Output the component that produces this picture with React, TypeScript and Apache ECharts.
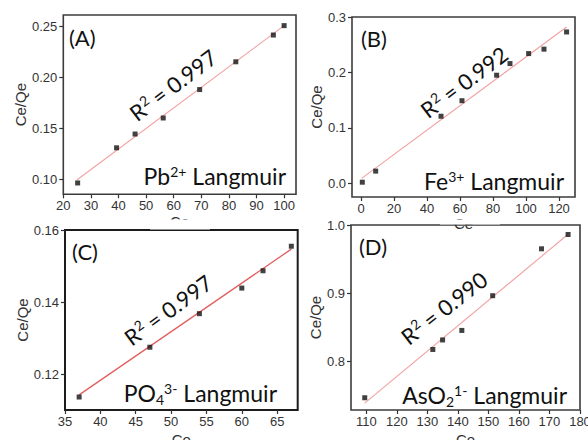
import React, { useEffect, useRef } from "react";
import * as echarts from "echarts";

// Pb2+ isotherm
const pbCe = [25.2, 39.3, 46.0, 56.2, 69.4, 82.5, 96.1, 100.0];
const pbRatio = [0.0964, 0.1308, 0.1443, 0.16, 0.1878, 0.215, 0.2412, 0.2504];
const pbFitCe = [24.9, 100.0];
const pbFitRatio = [0.0993, 0.2504];
const pbXTicks = [20, 30, 40, 50, 60, 70, 80, 90, 100];
const pbYTicks = [0.1, 0.15, 0.2, 0.25];

// Fe3+ isotherm
const feCe = [0.8, 8.9, 48.5, 61.2, 82.2, 90.3, 101.6, 110.9, 124.6];
const feRatio = [0.002, 0.022, 0.121, 0.149, 0.195, 0.216, 0.234, 0.242, 0.273];
const feFitCe = [0.4, 124.6];
const feFitRatio = [0.009, 0.282];
const feXTicks = [0, 20, 40, 60, 80, 100, 120];
const feYTicks = [0.0, 0.1, 0.2, 0.3];

// PO4 3- isotherm
const poCe = [37, 47, 54, 60, 63, 67];
const poRatio = [0.1137, 0.1275, 0.1368, 0.1439, 0.1487, 0.1555];
const poFitCe = [37, 67];
const poFitRatio = [0.1143, 0.1547];
const poXTicks = [35, 40, 45, 50, 55, 60, 65];
const poYTicks = [0.12, 0.14, 0.16];

// AsO2 1- isotherm
const asCe = [109.5, 131.8, 135.0, 141.3, 151.4, 167.4, 176.1];
const asRatio = [0.746, 0.817, 0.831, 0.845, 0.896, 0.965, 0.986];
const asFitCe = [109.5, 176.0];
const asFitRatio = [0.738, 0.986];
const asXTicks = [110, 120, 130, 140, 150, 160, 170, 180];
const asYTicks = [0.8, 0.9, 1.0];

const r2Values = ["0.997", "0.992", "0.997", "0.990"];
const panelTags = ["(A)", "(B)", "(C)", "(D)"];

// species labels: [text, kind] pieces, kind n = normal, sup, sub
type Piece = [string, "n" | "sup" | "sub"];
const speciesLabels: Piece[][] = [
  [["Pb", "n"], ["2+", "sup"], [" Langmuir", "n"]],
  [["Fe", "n"], ["3+", "sup"], [" Langmuir", "n"]],
  [["PO", "n"], ["4", "sub"], ["3-", "sup"], [" Langmuir", "n"]],
  [["AsO", "n"], ["2", "sub"], ["1-", "sup"], [" Langmuir", "n"]],
];

const zip = (xs: number[], ys: number[]) => xs.map((x, i) => [x, ys[i]]);

const AXIS_COLOR = "#333";
const TICK_FONT = "'Liberation Sans', Arial, sans-serif";
const NOTE_FAMILY = "Lato";
const NOTE_SIZE = 23;
const SCRIPT_SIZE = 14;

type Panel = {
  grid: { left: number; top: number; width: number; height: number };
  x: { min: number; max: number; ticks: number[]; nameGap: number };
  y: { min: number; max: number; ticks: number[]; digits: number; nameGap: number };
  points: number[][];
  fit: number[][];
  fitColor: string;
  fitWidth: number;
  frame: { color: string; width: number };
};

const panels: Panel[] = [
  {
    grid: { left: 63.3, top: 15, width: 232.7, height: 179.3 },
    x: { min: 20, max: 104.3, ticks: pbXTicks, nameGap: 20 },
    y: { min: 0.0853, max: 0.2608, ticks: pbYTicks, digits: 2, nameGap: 32 },
    points: zip(pbCe, pbRatio),
    fit: zip(pbFitCe, pbFitRatio),
    fitColor: "#f2a0a0",
    fitWidth: 1.1,
    frame: { color: "#3c3c3c", width: 1.6 },
  },
  {
    grid: { left: 352, top: 17, width: 223, height: 180 },
    x: { min: -5.45, max: 129.7, ticks: feXTicks, nameGap: 19 },
    y: { min: -0.0247, max: 0.3, ticks: feYTicks, digits: 1, nameGap: 27 },
    points: zip(feCe, feRatio),
    fit: zip(feFitCe, feFitRatio),
    fitColor: "#f2a0a0",
    fitWidth: 1.1,
    frame: { color: "#3c3c3c", width: 1.6 },
  },
  {
    grid: { left: 65, top: 230, width: 232.7, height: 180 },
    x: { min: 35, max: 67.9, ticks: poXTicks, nameGap: 22 },
    y: { min: 0.1101, max: 0.16, ticks: poYTicks, digits: 2, nameGap: 34 },
    points: zip(poCe, poRatio),
    fit: zip(poFitCe, poFitRatio),
    fitColor: "#e25f5f",
    fitWidth: 1.3,
    frame: { color: "#1c1c1c", width: 2 },
  },
  {
    grid: { left: 351, top: 225, width: 229, height: 185 },
    x: { min: 105, max: 180, ticks: asXTicks, nameGap: 22 },
    y: { min: 0.728, max: 1.0, ticks: asYTicks, digits: 1, nameGap: 27 },
    points: zip(asCe, asRatio),
    fit: zip(asFitCe, asFitRatio),
    fitColor: "#f2a0a0",
    fitWidth: 1.1,
    frame: { color: "#3c3c3c", width: 1.6 },
  },
];

// Annotation anchors inside each frame
const tagPos = [
  [69, 26],
  [361, 27],
  [72, 240],
  [359, 235],
];
const r2Pos = [
  [173, 85, 37],
  [464, 82, 37],
  [168, 310, 36],
  [444, 308, 38],
];
// right edge and vertical centre of the species label
const speciesPos = [
  [286, 176],
  [564, 181],
  [277, 393],
  [567, 395],
];

export default function App() {
  const ref = useRef<HTMLDivElement>(null);

  useEffect(() => {
    if (!ref.current) return;
    const chart = echarts.init(ref.current, null, { renderer: "svg" });

    const measureCtx = document.createElement("canvas").getContext("2d")!;
    const textWidth = (s: string, size: number) => {
      measureCtx.font = `${size}px ${NOTE_FAMILY}`;
      return measureCtx.measureText(s).width;
    };

    const grid = panels.map((p) => ({
      ...p.grid,
      show: true,
      borderColor: p.frame.color,
      borderWidth: p.frame.width,
      backgroundColor: "transparent",
      containLabel: false,
      outerBoundsMode: "none",
    }));

    const xAxis = panels.map((p, i) => ({
      type: "value",
      gridIndex: i,
      position: "bottom",
      min: p.x.min,
      max: p.x.max,
      name: "Ce",
      nameLocation: "middle",
      nameGap: p.x.nameGap,
      nameTextStyle: { color: AXIS_COLOR, fontSize: 15, fontFamily: TICK_FONT },
      axisLine: { show: false, onZero: false },
      splitLine: { show: false },
      axisTick: {
        show: true,
        inside: false,
        length: 4,
        customValues: p.x.ticks,
        lineStyle: { color: AXIS_COLOR, width: 1.2 },
      },
      axisLabel: {
        customValues: p.x.ticks,
        margin: 5,
        color: AXIS_COLOR,
        fontSize: 13,
        fontFamily: TICK_FONT,
        formatter: (v: number) => String(Math.round(v)),
      },
    }));

    const yAxis = panels.map((p, i) => ({
      type: "value",
      gridIndex: i,
      position: "left",
      min: p.y.min,
      max: p.y.max,
      name: "Ce/Qe",
      nameLocation: "middle",
      nameGap: p.y.nameGap,
      nameTextStyle: { color: AXIS_COLOR, fontSize: 15, fontFamily: TICK_FONT },
      axisLine: { show: false, onZero: false },
      splitLine: { show: false },
      axisTick: {
        show: true,
        inside: false,
        length: 4,
        customValues: p.y.ticks,
        lineStyle: { color: AXIS_COLOR, width: 1.2 },
      },
      axisLabel: {
        customValues: p.y.ticks,
        margin: 6,
        color: AXIS_COLOR,
        fontSize: 13,
        fontFamily: TICK_FONT,
        formatter: (v: number) => v.toFixed(p.y.digits),
      },
    }));

    const series: any[] = [];
    panels.forEach((p, i) => {
      series.push({
        type: "line",
        xAxisIndex: i,
        yAxisIndex: i,
        data: p.fit,
        symbol: "none",
        lineStyle: { color: p.fitColor, width: p.fitWidth },
        z: 2,
      });
      series.push({
        type: "scatter",
        xAxisIndex: i,
        yAxisIndex: i,
        data: p.points,
        symbol: "rect",
        symbolSize: 5,
        itemStyle: { color: "#111" },
        z: 3,
      });
    });

    const noteColor = "#111";
    const graphic: any[] = [];
    panelTags.forEach((t, i) => {
      graphic.push({
        type: "text",
        x: tagPos[i][0],
        y: tagPos[i][1],
        style: {
          text: t,
          fill: noteColor,
          fontSize: 22,
          fontFamily: NOTE_FAMILY,
          align: "left",
          verticalAlign: "top",
        },
      });

      // R² = value, written along the fit line
      const rBase = textWidth("R", 22);
      const rSup = textWidth("2", SCRIPT_SIZE);
      const rRest = " = " + r2Values[i];
      const rTotal = rBase + rSup + textWidth(rRest, 22);
      const x0 = -rTotal / 2;
      graphic.push({
        type: "group",
        x: r2Pos[i][0],
        y: r2Pos[i][1],
        rotation: (r2Pos[i][2] * Math.PI) / 180,
        children: [
          {
            type: "text",
            x: x0,
            y: 0,
            style: { text: "R", fill: noteColor, fontSize: 22, fontFamily: NOTE_FAMILY, align: "left", verticalAlign: "middle" },
          },
          {
            type: "text",
            x: x0 + rBase + 0.5,
            y: -5,
            style: { text: "2", fill: noteColor, fontSize: SCRIPT_SIZE, fontFamily: NOTE_FAMILY, align: "left", verticalAlign: "middle" },
          },
          {
            type: "text",
            x: x0 + rBase + rSup,
            y: 0,
            style: { text: rRest, fill: noteColor, fontSize: 22, fontFamily: NOTE_FAMILY, align: "left", verticalAlign: "middle" },
          },
        ],
      });

      // species label, right aligned
      const pieces = speciesLabels[i];
      const widths = pieces.map(([s, k]) => textWidth(s, k === "n" ? NOTE_SIZE : SCRIPT_SIZE));
      const total = widths.reduce((a, b) => a + b, 0);
      let cx = speciesPos[i][0] - total;
      pieces.forEach(([s, k], j) => {
        const dy = k === "sup" ? -5 : k === "sub" ? 6 : 0;
        graphic.push({
          type: "text",
          x: cx,
          y: speciesPos[i][1] + dy,
          style: {
            text: s,
            fill: noteColor,
            fontSize: k === "n" ? NOTE_SIZE : SCRIPT_SIZE,
            fontFamily: NOTE_FAMILY,
            align: "left",
            verticalAlign: "middle",
          },
        });
        cx += widths[j];
      });
    });

    // the lower frames sit over the tails of the upper "Ce" titles
    graphic.push({
      type: "rect",
      shape: { x: 150, y: 219.5, width: 60, height: 10 },
      style: { fill: "#fff" },
      z: 100,
    });
    graphic.push({
      type: "rect",
      shape: { x: 440, y: 219.5, width: 60, height: 5 },
      style: { fill: "#fff" },
      z: 100,
    });

    chart.setOption({
      animation: false,
      backgroundColor: "#fff",
      grid,
      xAxis,
      yAxis,
      series,
      graphic,
    });

    return () => chart.dispose();
  }, []);

  return (
    <div
      ref={ref}
      style={{ position: "absolute", left: 0, top: 0, width: 588, height: 440 }}
    />
  );
}
